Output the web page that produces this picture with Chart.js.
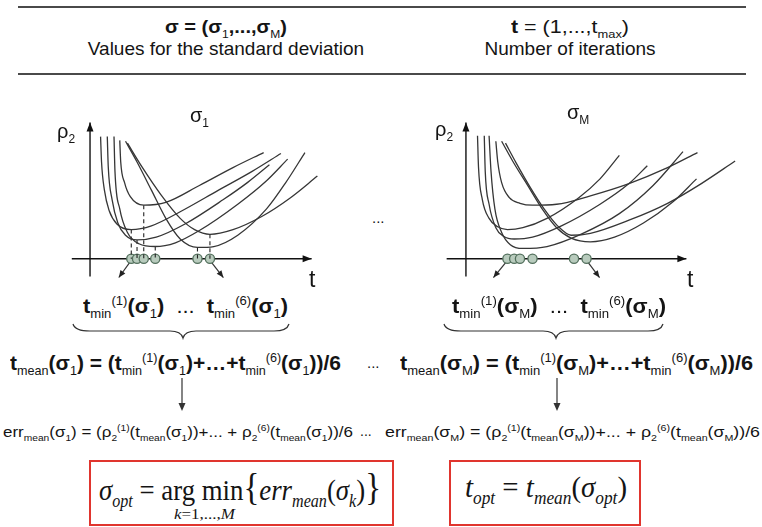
<!DOCTYPE html>
<html><head><meta charset="utf-8">
<script src="https://cdn.jsdelivr.net/npm/chart.js@4/dist/chart.umd.min.js"></script>
<style>
body{margin:0;background:#fff;width:762px;height:527px;overflow:hidden;position:relative;font-family:"Liberation Sans",Arial,sans-serif;color:#141414}
.t{position:absolute;white-space:nowrap;transform-origin:0 50%;line-height:1}
.t sub,.t sup{font-size:60%;line-height:0;font-weight:normal}
.b{font-weight:bold}
.rule{position:absolute;left:18px;width:728px;height:2px;background:#4a4a4a}
canvas{position:absolute}
.box{position:absolute;border:2px solid #e0352e;box-sizing:border-box}
.serif{font-family:"Liberation Serif","Times New Roman",serif}
svg{position:absolute;left:0;top:0}
</style></head><body>
<div class="rule" style="top:6px"></div>
<div class="rule" style="top:73px"></div>

<div class="t b" data-c="226" data-y="27" data-w="122" style="font-size:18px">σ = (σ<sub>1</sub>,...,σ<sub>M</sub>)</div>
<div class="t" data-c="226" data-y="48" style="font-size:19px">Values for the standard deviation</div>
<div class="t" data-c="570" data-y="27" data-w="118" style="font-size:18px"><b>t</b> = (1,...,t<sub>max</sub>)</div>
<div class="t" data-c="570" data-y="48" style="font-size:19px">Number of iterations</div>

<canvas id="cL" width="290" height="195" style="left:40px;top:95px;width:290px;height:195px"></canvas>
<canvas id="cR" width="335" height="195" style="left:420px;top:95px;width:335px;height:195px"></canvas>

<div class="t" data-x="190" data-y="115" style="font-size:20px">σ<sub>1</sub></div>
<div class="t" data-x="567" data-y="112" style="font-size:20px">σ<sub>M</sub></div>
<div class="t" data-x="57" data-y="131" style="font-size:20px">ρ<sub>2</sub></div>
<div class="t" data-x="435" data-y="129" style="font-size:20px">ρ<sub>2</sub></div>
<div class="t" data-x="309" data-y="279" style="font-size:23px">t</div>
<div class="t" data-x="687" data-y="279" style="font-size:23px">t</div>
<div class="t" data-x="372" data-y="217" style="font-size:15px">...</div>

<div class="t b" data-x="83" data-y="305" data-w="205" style="font-size:21px">t<sub>min</sub><sup>(1)</sup>(σ<sub>1</sub>)&nbsp;&nbsp;<span style="font-weight:normal">...</span>&nbsp;&nbsp;t<sub>min</sub><sup>(6)</sup>(σ<sub>1</sub>)</div>
<div class="t b" data-x="452" data-y="305" data-w="214" style="font-size:21px">t<sub>min</sub><sup>(1)</sup>(σ<sub>M</sub>)&nbsp;&nbsp;<span style="font-weight:normal">...</span>&nbsp;&nbsp;t<sub>min</sub><sup>(6)</sup>(σ<sub>M</sub>)</div>

<div class="t b" data-x="10" data-y="362" data-w="331" style="font-size:21px">t<sub>mean</sub>(σ<sub>1</sub>) = (t<sub>min</sub><sup>(1)</sup>(σ<sub>1</sub>)+…+t<sub>min</sub><sup>(6)</sup>(σ<sub>1</sub>))/6</div>
<div class="t" data-x="367" data-y="362" style="font-size:15px">...</div>
<div class="t b" data-x="400" data-y="362" data-w="353" style="font-size:21px">t<sub>mean</sub>(σ<sub>M</sub>) = (t<sub>min</sub><sup>(1)</sup>(σ<sub>M</sub>)+…+t<sub>min</sub><sup>(6)</sup>(σ<sub>M</sub>))/6</div>

<div class="t" data-x="3" data-y="431" data-w="350" style="font-size:15px">err<sub>mean</sub>(σ<sub>1</sub>) = (ρ<sub>2</sub><sup>(1)</sup>(t<sub>mean</sub>(σ<sub>1</sub>))+... + ρ<sub>2</sub><sup>(6)</sup>(t<sub>mean</sub>(σ<sub>1</sub>))/6</div>
<div class="t" data-x="360" data-y="431" style="font-size:14px">...</div>
<div class="t" data-x="385" data-y="431" data-w="375" style="font-size:15px">err<sub>mean</sub>(σ<sub>M</sub>) = (ρ<sub>2</sub><sup>(1)</sup>(t<sub>mean</sub>(σ<sub>M</sub>))+... + ρ<sub>2</sub><sup>(6)</sup>(t<sub>mean</sub>(σ<sub>M</sub>))/6</div>

<div class="box" style="left:89px;top:460px;width:305px;height:66px"></div>
<div class="box" style="left:449px;top:460px;width:192px;height:66px"></div>
<div class="t serif" data-x="99" data-y="487" data-w="282" style="font-size:30px"><i>σ</i><sub><i>opt</i></sub> = arg min<span style="font-size:37px">{</span><i>err</i><sub><i>mean</i></sub>(<i>σ</i><sub><i>k</i></sub>)<span style="font-size:37px">}</span></div>
<div class="t serif" data-x="174" data-y="515" data-w="61" style="font-size:14px"><i>k</i>=1,...,<i>M</i></div>
<div class="t serif" data-x="465" data-y="487" data-w="162" style="font-size:30px"><i>t</i><sub><i>opt</i></sub> = <i>t</i><sub><i>mean</i></sub>(<i>σ</i><sub><i>opt</i></sub>)</div>

<svg width="762" height="527">
  <g fill="none" stroke="#333" stroke-width="1.2">
    <path d="M73,324 Q75,331 90,331 L170,331 Q181,331 183,338 Q185,331 196,331 L274,331 Q287,331 289,324"/>
    <path d="M444,324 Q446,331 461,331 L543,331 Q554,331 556,338 Q558,331 569,331 L648,331 Q661,331 663,324"/>
    <line x1="182" y1="378" x2="182" y2="404"/>
    <line x1="557" y1="378" x2="557" y2="404"/>
  </g>
  <g fill="#333">
    <path d="M178.5,403 L185.5,403 L182,411 Z"/>
    <path d="M553.5,403 L560.5,403 L557,411 Z"/>
  </g>
</svg>

<script>
// ---- data (t, rho), arbitrary units ----
const leftCurveT = [
  [1.1,1.2,1.5,2.0,2.8,4.3,6.4,9.4,13.4,16.9,19.9],
  [1.8,1.9,2.3,2.9,3.7,4.9,6.9,9.9,13.9,16.4,18.7],
  [3.1,3.2,3.6,4.2,5.6,7.9,11.4,14.9,18.1],
  [2.5,2.6,3.1,3.9,5.1,6.8,8.9,11.4,15.4,18.4,20.6],
  [3.7,4.9,6.4,7.9,9.4,11.2,12.9,15.4,18.4,20.4,22.4],
  [3.9,5.4,7.4,9.4,10.9,12.5,14.9,17.9,20.9,23.7]
];
const leftCurveRho = [
  [13.0,10.3,7.3,5.1,3.7,3.1,3.5,5.0,7.3,9.3,11.2],
  [13.0,9.8,6.3,3.8,2.5,2.0,2.3,3.7,6.3,8.1,10.0],
  [12.6,10.3,8.1,6.6,5.7,6.0,7.8,9.7,11.3],
  [13.0,9.3,5.3,2.8,1.6,1.3,1.7,3.0,5.8,8.3,10.6],
  [12.5,10.3,7.3,4.3,2.1,1.2,1.3,2.5,5.3,8.1,11.3],
  [12.3,9.8,6.8,4.3,3.1,2.6,3.1,4.5,6.5,8.8]
];
const leftMinT   = [4.3,4.9,5.6,6.8,11.2,12.5];
const leftMinRho = [3.1,2.0,5.7,1.3,1.2,2.6];

const rightCurveT = [
  [1.2,1.3,1.7,2.4,3.3,4.3,5.9,8.4,11.7,13.9,15.9],
  [1.9,2.0,2.4,3.1,3.9,5.0,6.9,9.9,13.9,16.9,18.8],
  [2.4,2.6,3.0,3.7,4.6,5.9,8.4,11.9,15.9,19.4,22.5],
  [3.1,3.3,3.7,4.5,5.6,6.9,9.4,12.9,16.9,20.9,24.0],
  [3.7,4.9,6.4,7.9,9.4,10.9,12.9,15.4,18.4,21.4,23.9],
  [4.1,5.2,6.6,8.1,9.5,10.9,12.9,16.9,20.9,24.4,27.9]
];
const rightCurveRho = [
  [13.1,9.8,6.3,4.3,3.4,3.1,3.3,4.3,6.5,8.5,11.0],
  [13.1,9.3,5.8,3.3,2.4,2.1,2.3,3.5,5.8,8.0,9.9],
  [13.1,9.3,5.3,2.8,1.5,1.1,1.3,2.6,4.8,7.8,11.4],
  [12.5,10.3,8.1,6.5,5.9,5.7,5.8,6.7,8.0,9.7,11.3],
  [12.5,10.3,7.8,5.3,3.3,2.2,1.8,2.3,3.8,6.0,8.5],
  [12.3,10.2,7.7,5.3,3.5,2.5,2.7,4.1,5.9,8.0,10.4]
];
const rightMinT = [4.3,5.0,5.6,6.9,11.2,12.5];

// ---- drawing ----
const axesPlugin = {
  id: 'diagramAxes',
  beforeDatasetsDraw(chart, args, o) {
    const {ctx, scales: {x, y}} = chart;
    const X = v => x.getPixelForValue(v), Y = v => y.getPixelForValue(v);
    ctx.save();
    ctx.strokeStyle = '#111'; ctx.fillStyle = '#111'; ctx.lineWidth = 1.4;
    const arrow = (x1, y1, x2, y2, size, w) => {
      ctx.beginPath(); ctx.moveTo(x1, y1); ctx.lineTo(x2, y2); ctx.stroke();
      const a = Math.atan2(y2 - y1, x2 - x1);
      ctx.beginPath();
      ctx.moveTo(x2, y2);
      ctx.lineTo(x2 - size * Math.cos(a) + w * Math.sin(a), y2 - size * Math.sin(a) - w * Math.cos(a));
      ctx.lineTo(x2 - size * Math.cos(a) - w * Math.sin(a), y2 - size * Math.sin(a) + w * Math.cos(a));
      ctx.closePath(); ctx.fill();
    };
    arrow(X(o.tFrom), Y(0), X(o.tTo), Y(0), 9, 3.5);
    arrow(X(0), Y(o.rFrom), X(0), Y(o.rTo), 9, 3.5);
    ctx.lineWidth = 1.2; ctx.strokeStyle = '#333'; ctx.fillStyle = '#222';
    o.pointers.forEach(p => arrow(X(p[0]), Y(p[1]), X(p[2]), Y(p[3]), 7, 3));
    ctx.restore();
  }
};

function makeChart(id, curveT, curveRho, minT, minRho, cfg) {
  const datasets = [];
  curveT.forEach((ts, i) => {
    datasets.push({
      type: 'line',
      data: ts.map((t, j) => ({x: t, y: curveRho[i][j]})),
      borderColor: '#363636', borderWidth: 1.3, pointRadius: 0,
      cubicInterpolationMode: 'monotone', fill: false, clip: false
    });
  });
  if (minRho) {
    minT.forEach((t, i) => datasets.push({
      type: 'line',
      data: [{x: t, y: minRho[i]}, {x: t, y: 0}],
      borderColor: '#222', borderWidth: 1.1, borderDash: [4, 3], pointRadius: 0, clip: false
    }));
  }
  datasets.push({
    type: 'scatter',
    data: minT.map(t => ({x: t, y: 0})),
    pointRadius: 4.6, pointBackgroundColor: '#b8cbbd', pointBorderColor: '#53705d',
    pointBorderWidth: 1.3, clip: false
  });
  return new Chart(document.getElementById(id), {
    type: 'scatter',
    data: {datasets},
    options: {
      responsive: false, animation: false, events: [],
      layout: {padding: 0},
      plugins: {legend: {display: false}, tooltip: {enabled: false}, diagramAxes: cfg.axes},
      scales: {
        x: {type: 'linear', display: false, min: cfg.xMin, max: cfg.xMax},
        y: {type: 'linear', display: false, min: cfg.yMin, max: cfg.yMax}
      }
    },
    plugins: [axesPlugin]
  });
}

makeChart('cL', leftCurveT, leftCurveRho, leftMinT, leftMinRho, {
  xMin: -4.6, xMax: 24.4, yMin: -2.7, yMax: 16.8,
  axes: {tFrom: -1.9, tTo: 23.1, rFrom: -1.9, rTo: 14.5,
         pointers: [[4.2, -0.3, 3.0, -2.0], [12.6, -0.3, 13.9, -2.0]]}
});
makeChart('cR', rightCurveT, rightCurveRho, rightMinT, null, {
  xMin: -4.15, xMax: 29.35, yMin: -2.7, yMax: 16.8,
  axes: {tFrom: -2.0, tTo: 22.85, rFrom: -1.9, rTo: 14.5,
         pointers: [[4.2, -0.3, 2.85, -2.0], [12.6, -0.3, 13.85, -2.0]]}
});

function layoutText() {
  document.querySelectorAll('.t').forEach(el => {
    el.style.transform = 'none';
    const r = el.getBoundingClientRect();
    const y = +el.dataset.y;
    const w = el.dataset.w ? +el.dataset.w : r.width;
    const x = el.dataset.c ? (+el.dataset.c - w / 2) : +el.dataset.x;
    el.style.left = x + 'px';
    el.style.top = (y - r.height / 2) + 'px';
    if (el.dataset.w) el.style.transform = 'scaleX(' + (w / r.width) + ')';
  });
}
layoutText();
if (document.fonts && document.fonts.ready) document.fonts.ready.then(layoutText);
</script>
</body></html>
